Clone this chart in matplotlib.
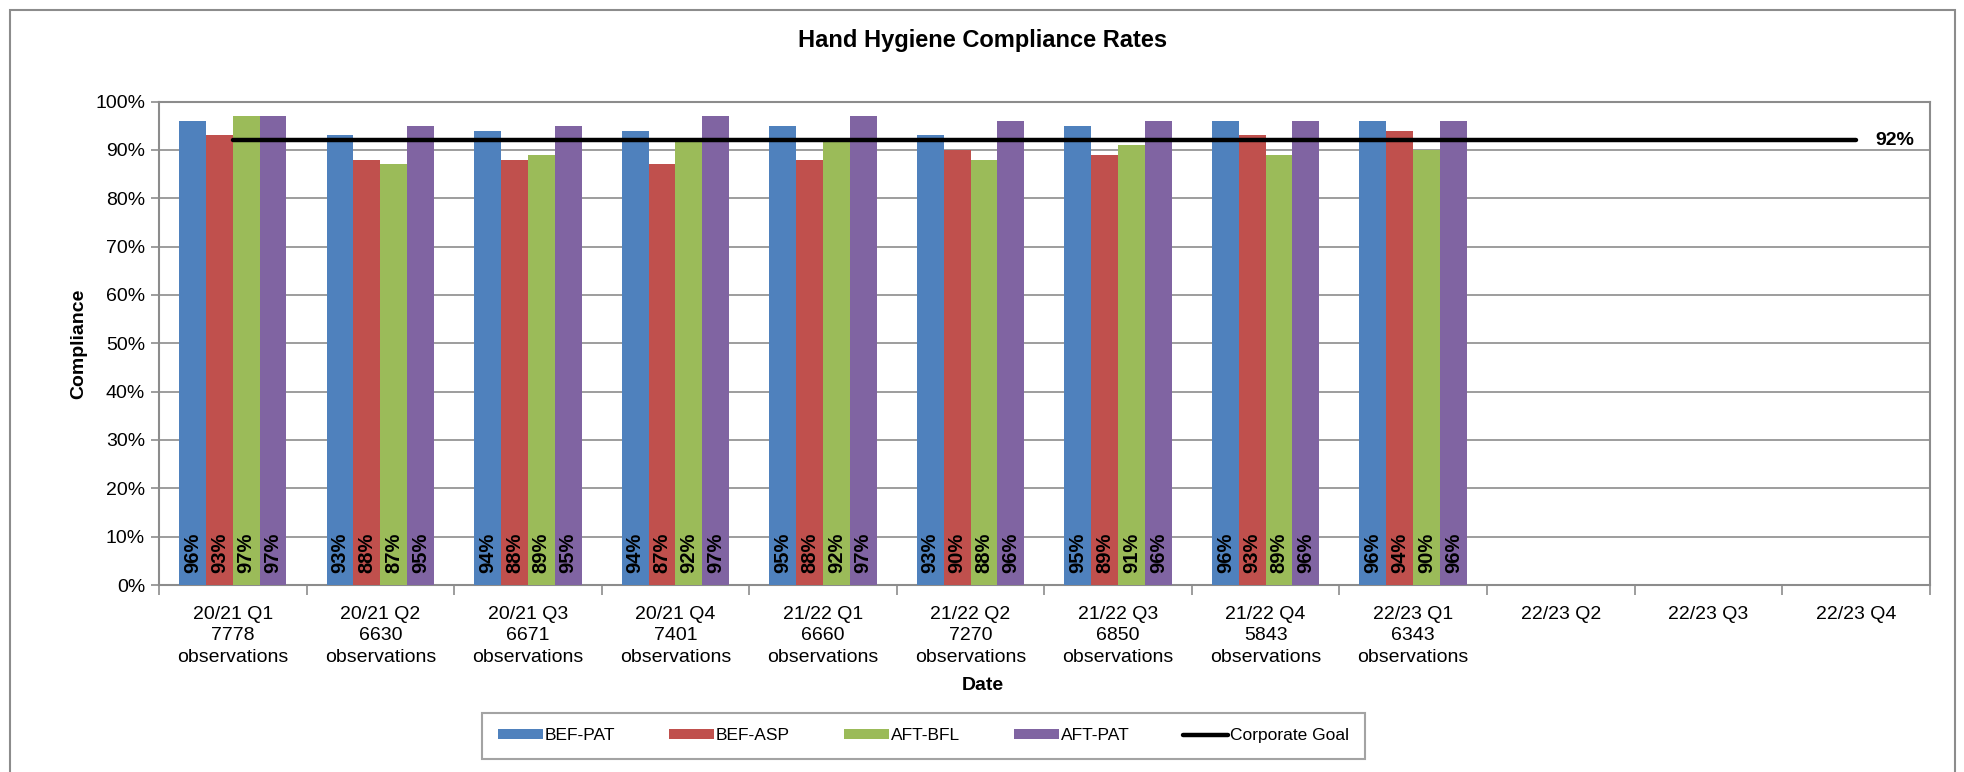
import numpy as np
import matplotlib
matplotlib.use("Agg")
import matplotlib.pyplot as plt
from matplotlib.patches import Rectangle
from matplotlib.ticker import PercentFormatter

plt.rcParams['font.family'] = ['Liberation Sans', 'DejaVu Sans']

quarters = ["20/21 Q1\n7778\nobservations", "20/21 Q2\n6630\nobservations",
            "20/21 Q3\n6671\nobservations", "20/21 Q4\n7401\nobservations",
            "21/22 Q1\n6660\nobservations", "21/22 Q2\n7270\nobservations",
            "21/22 Q3\n6850\nobservations", "21/22 Q4\n5843\nobservations",
            "22/23 Q1\n6343\nobservations", "22/23 Q2", "22/23 Q3", "22/23 Q4"]

bef_pat = [96, 93, 94, 94, 95, 93, 95, 96, 96]
bef_asp = [93, 88, 88, 87, 88, 90, 89, 93, 94]
aft_bfl = [97, 87, 89, 92, 92, 88, 91, 89, 90]
aft_pat = [97, 95, 95, 97, 97, 96, 96, 96, 96]
goal = 92

series = [("BEF-PAT", bef_pat, "#4F81BD"),
          ("BEF-ASP", bef_asp, "#C0504D"),
          ("AFT-BFL", aft_bfl, "#9BBB59"),
          ("AFT-PAT", aft_pat, "#8064A2")]

fig = plt.figure(figsize=(19.65, 7.72), dpi=100)
ax = fig.add_axes([0.0809, 0.2422, 0.9011, 0.6263])

# outer chart border
fig.patches.append(Rectangle((0.005, -0.01), 0.99, 0.997, transform=fig.transFigure,
                             fill=False, edgecolor="#8c8c8c", linewidth=1.5))

w = 0.182
x = np.arange(len(quarters))
handles = []
for i, (name, vals, col) in enumerate(series):
    xs = x[:len(vals)] + (i - 1.5) * w
    bars = ax.bar(xs, vals, width=w, color=col, label=name, zorder=3)
    handles.append(bars)
    for b, v in zip(bars, vals):
        ax.text(b.get_x() + b.get_width() / 2, 2.4, f"{v}%", rotation=90,
                ha="center", va="bottom", fontsize=14.5, fontweight="bold", zorder=4)

line, = ax.plot([x[0], x[-1]], [goal, goal], color="black", linewidth=3.2,
                solid_capstyle="round", label="Corporate Goal", zorder=5)
handles.append(line)
ax.annotate(f"{goal}%", (x[-1], goal), xytext=(14, 0), textcoords="offset points",
            ha="left", va="center", fontsize=14, fontweight="bold")

ax.set_xlim(-0.5, len(quarters) - 0.5)
ax.set_ylim(0, 100)
ax.set_yticks(np.arange(0, 101, 10))
ax.yaxis.set_major_formatter(PercentFormatter(decimals=0))
ax.set_xticks(x)
ax.set_xticklabels(quarters, va="top", linespacing=1.35)
ax.set_xticks(np.arange(-0.5, len(quarters), 1), minor=True)
ax.tick_params(axis="x", which="major", length=0, pad=15, labelsize=14)
ax.tick_params(axis="x", which="minor", length=7, color="#8c8c8c", width=1.2)
ax.tick_params(axis="y", length=6, color="#8c8c8c", width=1.2, labelsize=14, pad=4)

ax.grid(axis="y", color="#8c8c8c", linewidth=1.2, zorder=0)
for s in ax.spines.values():
    s.set_color("#8c8c8c")
    s.set_linewidth(1.5)

fig.text(0.5, 0.948, "Hand Hygiene Compliance Rates", ha="center", va="center",
         fontsize=17, fontweight="bold")
fig.text(0.5, 0.112, "Date", ha="center", va="center", fontsize=14, fontweight="bold")
fig.text(0.040, 0.555, "Compliance", ha="center", va="center", rotation=90,
         fontsize=14, fontweight="bold")

leg = fig.legend(handles=handles, loc="center", bbox_to_anchor=(0.470, 0.047), ncol=5,
                 fontsize=12.5, frameon=True, fancybox=False, edgecolor="#8c8c8c",
                 handlelength=2.6, handleheight=0.5, handletextpad=0.1,
                 columnspacing=3.1, borderpad=0.9)
leg.get_frame().set_linewidth(1.5)

fig.savefig("out.png", dpi=100)
